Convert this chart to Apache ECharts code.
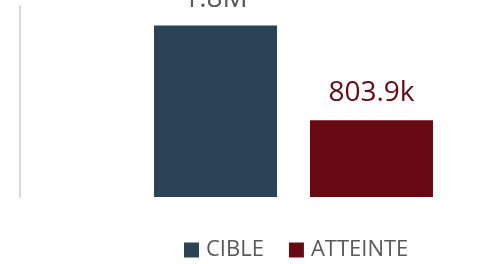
<!DOCTYPE html>
<html><head><meta charset="utf-8">
<script src="https://cdn.jsdelivr.net/npm/echarts@6/dist/echarts.min.js"></script>
<style>html,body{margin:0;padding:0;background:#fff}#c{width:498px;height:264px}</style>
</head><body><div id="c"></div>
<script>
const categories = ['Total'];
const seriesNames = ['CIBLE', 'ATTEINTE'];
const cibleValues = [1795000];
const atteinteValues = [803900];
const seriesColors = ['#2a4456', '#680a14'];
const labelColors = ['#595959', '#680a14'];

function fmt(v) {
  if (v >= 1e6) return (v / 1e6).toFixed(1) + 'M';
  if (v >= 1e3) return (v / 1e3).toFixed(1) + 'k';
  return String(v);
}

const valuesList = [cibleValues, atteinteValues];
const chart = echarts.init(document.getElementById('c'));
chart.setOption({
  animation: false,
  grid: { left: 140, right: 51, top: 6, bottom: 67 },
  legend: {
    top: 239, left: 184, padding: 0,
    icon: 'rect', itemWidth: 15, itemHeight: 15, itemGap: 25,
    textStyle: { fontFamily: 'Open Sans', fontSize: 22, color: '#595959', padding: [0, 0, 0, 2] },
    data: seriesNames
  },
  xAxis: { type: 'category', data: categories, show: false },
  yAxis: {
    type: 'value', min: 0, max: 2000000, offset: 120,
    axisLine: { show: true, lineStyle: { color: '#d9d9d9', width: 2 } },
    axisTick: { show: false }, axisLabel: { show: false }, splitLine: { show: false }
  },
  series: seriesNames.map((n, i) => ({
    name: n, type: 'bar', data: valuesList[i],
    barWidth: 123, barGap: '26.8%',
    itemStyle: { color: seriesColors[i] },
    label: {
      show: true, position: 'top', distance: 13,
      formatter: p => fmt(p.value),
      fontFamily: 'Open Sans', fontSize: 28, color: labelColors[i]
    }
  }))
});
</script></body></html>
